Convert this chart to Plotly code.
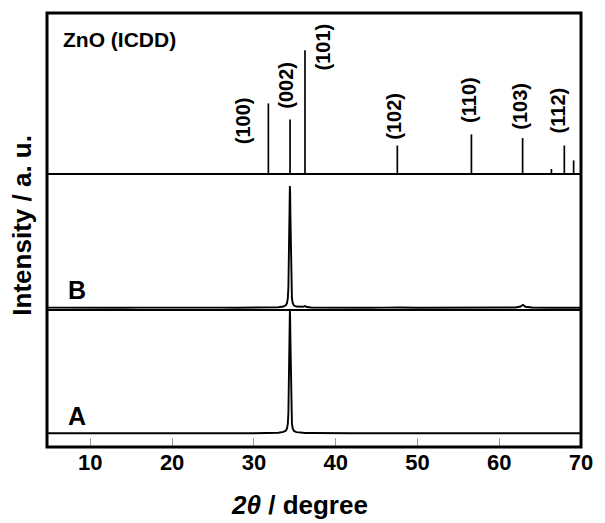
import plotly.graph_objects as go
from plotly.subplots import make_subplots

# ZnO reference pattern (ICDD): peak positions, relative intensities, Miller indices
ref_2theta = [31.77, 34.42, 36.25, 47.54, 56.60, 62.86, 66.38, 67.96, 69.10]
ref_intensity = [57, 44, 100, 23, 32, 29, 4, 23, 11]
ref_hkl = ["(100)", "(002)", "(101)", "(102)", "(110)", "(103)", "", "(112)", ""]
# label anchor points (2θ, intensity units) for the labelled reflections
hkl_label_x = [28.7, 33.9, 38.4, 47.1, 56.3, 62.5, None, 67.3, None]
hkl_label_y = [42.8, 71.9, 102.6, 46.8, 59.8, 54.9, None, 51.3, None]

# Measured pattern A (normalised intensity)
a_2theta = [4.7, 6, 8, 10, 12, 14, 16, 18, 20, 22, 24, 26, 28, 30, 31, 32, 33, 33.6,
            33.9, 34.05, 34.15, 34.22, 34.28, 34.33, 34.37, 34.4, 34.43, 34.47, 34.52,
            34.58, 34.65, 34.75, 34.9, 35.2, 35.6, 36.3, 37, 38, 40, 42, 44, 46, 48,
            50, 52, 54, 56, 58, 60, 62, 64, 66, 68, 70]
a_int = [0.002, 0.003, 0.002, 0.001, 0.002, 0.001, 0.002, 0.001, 0.002, 0.001, 0.002,
         0.001, 0.002, 0.002, 0.003, 0.003, 0.006, 0.012,
         0.022, 0.04, 0.08, 0.17, 0.38, 0.70, 0.93, 1.0, 0.95, 0.74, 0.42,
         0.18, 0.08, 0.04, 0.02, 0.01, 0.006, 0.004, 0.003, 0.002, 0.002, 0.001,
         0.002, 0.001, 0.002, 0.002, 0.001, 0.002, 0.002, 0.001, 0.002, 0.003, 0.002,
         0.001, 0.002, 0.002]

# Measured pattern B (normalised intensity)
b_2theta = [4.7, 6, 8, 10, 12, 14, 16, 18, 20, 22, 24, 26, 28, 30, 31, 31.8, 32.5, 33,
            33.6, 33.9, 34.05, 34.15, 34.22, 34.28, 34.33, 34.37, 34.4, 34.43, 34.47,
            34.52, 34.58, 34.65, 34.75, 34.9, 35.2, 35.6, 36.0, 36.25, 36.5, 37, 38, 40,
            42, 44, 46, 47.2, 47.5, 47.8, 50, 52, 54, 56, 56.6, 58, 60, 62, 62.6, 62.9,
            63.2, 64, 66, 68, 70]
b_int = [0.003, 0.002, 0.004, 0.002, 0.003, 0.002, 0.003, 0.004, 0.002, 0.003, 0.002,
         0.003, 0.002, 0.003, 0.004, 0.006, 0.004, 0.006,
         0.012, 0.022, 0.04, 0.08, 0.17, 0.38, 0.70, 0.93, 1.0, 0.95, 0.74,
         0.42, 0.18, 0.08, 0.04, 0.02, 0.012, 0.008, 0.010, 0.016, 0.008, 0.004,
         0.003, 0.002, 0.003, 0.002, 0.003, 0.005, 0.009, 0.004, 0.002, 0.003, 0.002,
         0.003, 0.005, 0.002, 0.003, 0.004, 0.012, 0.026, 0.010, 0.004, 0.002, 0.003,
         0.002]

x_ticks = [10, 20, 30, 40, 50, 60, 70]
x_range = [4.7, 70]

FONT = "Liberation Sans, Arial, sans-serif"
row_px = [161, 136, 137]

fig = make_subplots(rows=3, cols=1, shared_xaxes=True, vertical_spacing=0,
                    row_heights=row_px)

# reference sticks
sx, sy = [], []
for p, i in zip(ref_2theta, ref_intensity):
    sx += [p, p, None]
    sy += [0, i, None]
fig.add_trace(go.Scatter(x=sx, y=sy, mode="lines", line=dict(color="black", width=1.7),
                         hoverinfo="skip", showlegend=False), row=1, col=1)

fig.add_trace(go.Scatter(x=b_2theta, y=b_int, mode="lines",
                         line=dict(color="black", width=1.9), showlegend=False),
              row=2, col=1)
fig.add_trace(go.Scatter(x=a_2theta, y=a_int, mode="lines",
                         line=dict(color="black", width=1.9), showlegend=False),
              row=3, col=1)

for r in (1, 2, 3):
    fig.update_xaxes(range=x_range, showgrid=False, zeroline=False, showline=False,
                     row=r, col=1)
    fig.update_yaxes(showgrid=False, zeroline=False, showline=False, showticklabels=False,
                     ticks="", row=r, col=1)

fig.update_yaxes(range=[0, 130], row=1, col=1)
fig.update_yaxes(range=[-0.0164, 1.098], row=2, col=1)
fig.update_yaxes(range=[-0.11, 1.0], row=3, col=1)

fig.update_xaxes(tickvals=x_ticks, ticks="inside", ticklen=9, tickwidth=1,
                 tickcolor="#9a9a9a", showticklabels=True,
                 tickfont=dict(family=FONT, size=22, color="black", weight="bold"),
                 row=3, col=1)

# hkl labels
for lx, ly, t in zip(hkl_label_x, hkl_label_y, ref_hkl):
    if not t:
        continue
    fig.add_annotation(x=lx, y=ly, xref="x", yref="y", text=t, textangle=-90,
                       showarrow=False, xanchor="center", yanchor="middle",
                       font=dict(family=FONT, size=20, color="black", weight="bold"))

total = sum(row_px)
b1 = (row_px[1] + row_px[2]) / total
b2 = row_px[2] / total

shapes = [
    dict(type="rect", xref="paper", yref="paper", x0=0, x1=1, y0=0, y1=1,
         line=dict(color="black", width=3)),
    dict(type="line", xref="paper", yref="paper", x0=0, x1=1, y0=b1, y1=b1,
         line=dict(color="black", width=2)),
    dict(type="line", xref="paper", yref="paper", x0=0, x1=1, y0=b2, y1=b2,
         line=dict(color="black", width=2)),
]

txt = dict(family=FONT, color="black", weight="bold")
fig.add_annotation(x=0.026, y=0.938, xref="paper", yref="paper", text="ZnO (ICDD)",
                   showarrow=False, xanchor="left", yanchor="middle",
                   font=dict(size=21, **txt))
fig.add_annotation(x=0.035, y=0.362, xref="paper", yref="paper", text="B",
                   showarrow=False, xanchor="left", yanchor="middle",
                   font=dict(size=25, **txt))
fig.add_annotation(x=0.035, y=0.0714, xref="paper", yref="paper", text="A",
                   showarrow=False, xanchor="left", yanchor="middle",
                   font=dict(size=25, **txt))
fig.add_annotation(x=0, y=0.51, xref="paper", yref="paper", xshift=-25,
                   text="Intensity / a. u.", textangle=-90, showarrow=False,
                   xanchor="center", yanchor="middle", font=dict(size=26, **txt))
fig.add_annotation(x=0.473, y=0, xref="paper", yref="paper", yshift=-58,
                   text="<i>2θ</i> / degree", showarrow=False,
                   xanchor="center", yanchor="middle", font=dict(size=26, **txt))

fig.update_layout(width=605, height=523, margin=dict(l=47, r=15, t=13, b=76),
                  paper_bgcolor="white", plot_bgcolor="white", shapes=shapes,
                  showlegend=False)

fig.write_html("out.html")
